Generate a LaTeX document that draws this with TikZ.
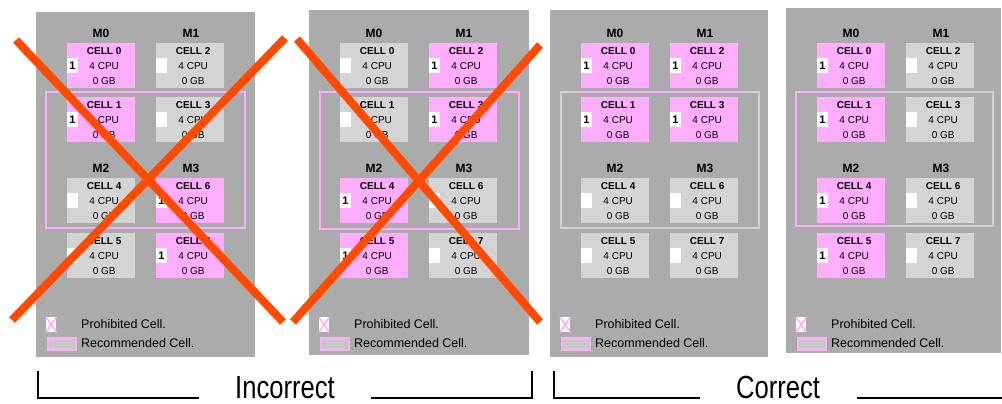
\documentclass[tikz,border=0pt]{standalone}
\usepackage{fontspec}
\setmainfont{Liberation Sans}
\newfontfamily\capfont[FakeStretch=0.8]{Liberation Sans}
\usetikzlibrary{positioning}
\definecolor{cpPanel}{HTML}{ABABAB}
\definecolor{cpCell}{HTML}{D4D4D4}
\definecolor{cpPink}{HTML}{FFADFF}
\definecolor{cpFrame}{HTML}{D2D2D2}
\definecolor{cpLegend}{HTML}{C8C8C8}
\definecolor{cpCross}{HTML}{FF4A00}
\tikzset{
  panel/.style={fill=cpPanel, draw=none},
  cellbase/.style={
    rectangle,
    anchor=north west,
    inner sep=0pt,
    minimum width=68pt,
    minimum height=45pt
  },
  pinkcell/.style={cellbase, fill=cpPink},
  graycell/.style={cellbase, fill=cpCell},
  celltext/.style={align=center, inner sep=0pt, font=\fontsize{10}{15}\selectfont},
  flag/.style={
    rectangle,
    anchor=north west,
    fill=white,
    inner sep=0pt,
    minimum width=10.5pt,
    minimum height=15pt,
    font=\fontsize{11}{11}\selectfont\bfseries
  },
  mlabel/.style={inner sep=0pt, font=\fontsize{12}{12}\selectfont\bfseries},
  frame/.style={line width=2pt, draw=#1},
  legicon/.style={rectangle, anchor=north west, fill=white, inner sep=0pt, minimum width=10pt, minimum height=15pt},
  legbox/.style={rectangle, anchor=north west, fill=cpLegend, draw=cpPink, line width=2pt, inner sep=0pt, minimum width=28pt, minimum height=12pt},
  legend/.style={anchor=west, inner sep=0pt, font=\fontsize{12.5}{12.5}\selectfont},
  cross/.style={line width=8pt, draw=cpCross},
  bracket/.style={line width=2pt, draw=black},
  caption/.style={anchor=base, inner sep=0pt, text depth=0pt, font=\capfont\fontsize{32}{32}\selectfont}
}
% one panel: #1 name, #2 left edge, #3 cells as number/column/top/pink
\newcommand{\drawpanel}[3]{%
  \node[mlabel] (#1m0) at (#2+65,33) {M0};
  \node[mlabel] (#1m1) at (#2+155,33) {M1};
  \node[mlabel] (#1m2) at (#2+65,168) {M2};
  \node[mlabel] (#1m3) at (#2+155,168) {M3};
  \foreach \n/\c/\y/\k in {#3} {
    \ifnum\k=1
      \node[pinkcell] (#1c\n) at ({#2+31+89*\c},\y) {};
      \node[flag] (#1f\n) at ([yshift=-15pt]#1c\n.north west) {1};
    \else
      \node[graycell] (#1c\n) at ({#2+31+89*\c},\y) {};
      \node[flag] (#1f\n) at ([yshift=-15pt]#1c\n.north west) {};
    \fi
    \node[celltext] (#1t\n) at ([xshift=3pt]#1c\n.center) {\textbf{CELL \n}\\4 CPU\\0 GB};
  }
  \node[legicon] (#1lx) at (#2+10,317) {};
  \draw[cpPink, line width=1.5pt] (#1lx.north west) -- (#1lx.south east) (#1lx.north east) -- (#1lx.south west);
  \node[legend] (#1lp) at (#2+45,324) {Prohibited Cell.};
  \node[legbox] (#1lb) at (#2+11,337) {};
  \node[legend] (#1lr) at (#2+45,343) {Recommended Cell.};
}

\begin{document}
\begin{tikzpicture}[x=1pt, y=-1pt]
\useasboundingbox (0,0) rectangle (1002,404);

% panels
\fill[panel] (36,12) rectangle (255,357);
\fill[panel] (309,10) rectangle (529,355);
\fill[panel] (550,10) rectangle (768,357);
\fill[panel] (786,8) rectangle (1001,353);

% recommended frames
\draw[frame=cpPink] (46,92) rectangle (245,228);
\draw[frame=cpPink] (320,92) rectangle (519,229);
\draw[frame=cpFrame] (561,92) rectangle (759,228);
\draw[frame=cpPink] (578,92) -- (742,92);
\draw[frame=cpPink] (887,92) -| (796,226) -- (887,226);
\draw[frame=cpFrame] (887,92) -| (993,226) -- (887,226);

\drawpanel{pa}{36}{0/0/43/1, 2/1/43/0, 1/0/97/1, 3/1/97/0, 4/0/178/0, 6/1/178/1, 5/0/233/0, 7/1/233/1}
\drawpanel{pb}{309}{0/0/43/0, 2/1/43/1, 1/0/97/0, 3/1/97/1, 4/0/178/1, 6/1/178/0, 5/0/233/1, 7/1/233/0}
\drawpanel{pc}{550}{0/0/43/1, 2/1/43/1, 1/0/97/1, 3/1/97/1, 4/0/178/0, 6/1/178/0, 5/0/233/0, 7/1/233/0}
\drawpanel{pd}{786}{0/0/43/1, 2/1/43/0, 1/0/97/1, 3/1/97/0, 4/0/178/1, 6/1/178/0, 5/0/233/1, 7/1/233/0}

% crosses over the wrong layouts
\coordinate (xa1) at (16,40);
\coordinate (xa2) at (283,322);
\coordinate (xa3) at (285,38);
\coordinate (xa4) at (12,320);
\coordinate (xb1) at (297,39);
\coordinate (xb2) at (540,322);
\coordinate (xb3) at (540,45);
\coordinate (xb4) at (293,322);
\draw[cross] (xa1) -- (xa2);
\draw[cross] (xa3) -- (xa4);
\draw[cross] (xb1) -- (xb2);
\draw[cross] (xb3) -- (xb4);

% captions
\node[caption] (incorrect) at (285,398) {Incorrect};
\node[caption] (correct) at (778,398) {Correct};
\draw[bracket] (38,371) |- (199,398);
\draw[bracket] (371,398) -| (532,371);
\draw[bracket] (554,371) |- (700,398);
\draw[bracket] (857,398) -- (1002,398);

\end{tikzpicture}
\end{document}
